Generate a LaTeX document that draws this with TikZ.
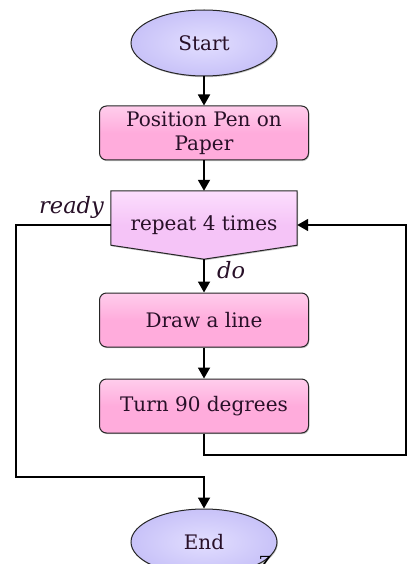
\documentclass[tikz,border=0pt]{standalone}
\usepackage{fontspec}
\setmainfont{DejaVu Serif}
\usetikzlibrary{arrows.meta,shapes.geometric,shadows,backgrounds}
\definecolor{lav}{RGB}{200,194,248}
\definecolor{lavlt}{RGB}{226,222,255}
\definecolor{pinkbox}{RGB}{255,172,220}
\definecolor{pinklt}{RGB}{255,205,236}
\definecolor{repc}{RGB}{245,196,247}
\definecolor{replt}{RGB}{252,222,253}
\definecolor{txtc}{RGB}{40,16,40}
\begin{document}
\begin{tikzpicture}[x=1pt,y=-1pt,
  txt/.style={font=\fontsize{20}{24}\selectfont, text=txtc},
  term/.style={txt, ellipse, draw=black!85, line width=1pt, inner color=lavlt, outer color=lav,
    minimum width=146pt, minimum height=66pt, inner sep=0pt,
    drop shadow={shadow xshift=0.8pt, shadow yshift=-1.2pt, opacity=0.45}},
  proc/.style={txt, rectangle, rounded corners=7pt, draw=black!85, line width=1pt,
    top color=pinklt, bottom color=pinkbox, middle color=pinkbox,
    minimum width=209pt, minimum height=54pt, align=center, inner sep=2pt,
    drop shadow={shadow xshift=0.8pt, shadow yshift=-1.2pt, opacity=0.45}},
  loopbox/.style={txt, rectangle, minimum width=186pt, minimum height=68pt, inner sep=0pt},
  conn/.style={line width=1.8pt, -{Triangle[width=12pt,length=11pt]}},
  lbl/.style={font=\fontsize{22.5}{24}\selectfont\itshape, text=txtc, inner sep=0pt}
]
\useasboundingbox (0,0) rectangle (411,564);

\node[term] (start) at (204,43) {Start};
\node[proc] (pos) at (204,133) {Position Pen on\\Paper};
\node[loopbox] (rep) at (204,225) {repeat 4 times};
\node[proc] (drw) at (204,320) {Draw a line};
\node[proc] (turn) at (204,406) {Turn 90 degrees};
\node[term] (end) at (204,542) {End};

\begin{scope}[on background layer]
  \draw[draw=black!85, line width=1pt, top color=replt, bottom color=repc, middle color=repc,
        drop shadow={shadow xshift=0.8pt, shadow yshift=-1.2pt, opacity=0.45}]
    (rep.north west) -- (rep.north east) -- ([yshift=14pt]rep.south east)
    -- (rep.south) -- ([yshift=14pt]rep.south west) -- cycle;
\end{scope}

\node[lbl, anchor=base east] (ready) at (104,213) {ready};
\node[lbl, anchor=base west] (do) at (217,278) {do};
\node[font=\fontsize{18}{24}\selectfont, anchor=north west, inner sep=0pt] (zz) at (259,556) {Z};

\coordinate (rb) at (406,455);
\coordinate (lb) at (16,477);

\draw[conn] (start.south) -- (pos.north);
\draw[conn] (pos.south) -- (rep.north);
\draw[conn] (rep.south) -- (drw.north);
\draw[conn] (drw.south) -- (turn.north);
\draw[conn] (turn.south) |- (rb) |- (rep.east);
\draw[conn] (rep.west) -| (lb) -| (end.north);
\end{tikzpicture}
\end{document}
